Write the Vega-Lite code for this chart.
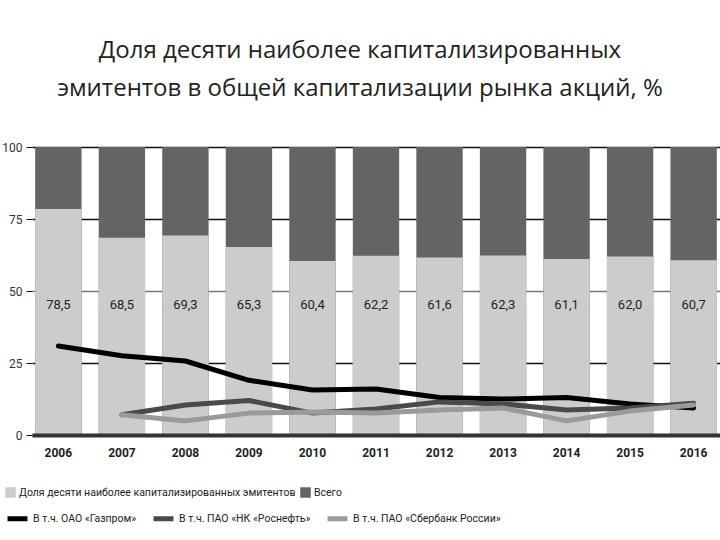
{
  "$schema": "https://vega.github.io/schema/vega-lite/v6.json",
  "autosize": "none",
  "width": 688,
  "height": 288,
  "padding": {"left": 32, "top": 147, "right": 0, "bottom": 105},
  "title": {
    "text": ["Доля десяти наиболее капитализированных", "эмитентов в общей капитализации рынка акций, %"],
    "font": "Open Sans",
    "fontSize": 24,
    "fontWeight": "normal",
    "color": "#222",
    "anchor": "middle",
    "dx": -16,
    "offset": 40,
    "lineHeight": 38
  },
  "data": {
    "values": [
      {"year": "2006", "total": 100, "share": 78.5, "gazprom": 30.9, "rosneft": null, "sber": null},
      {"year": "2007", "total": 100, "share": 68.5, "gazprom": 27.5, "rosneft": 7.0, "sber": 7.0},
      {"year": "2008", "total": 100, "share": 69.3, "gazprom": 25.7, "rosneft": 10.4, "sber": 4.9},
      {"year": "2009", "total": 100, "share": 65.3, "gazprom": 19.0, "rosneft": 12.0, "sber": 7.6},
      {"year": "2010", "total": 100, "share": 60.4, "gazprom": 15.6, "rosneft": 7.6, "sber": 8.0},
      {"year": "2011", "total": 100, "share": 62.2, "gazprom": 16.0, "rosneft": 9.0, "sber": 7.6},
      {"year": "2012", "total": 100, "share": 61.6, "gazprom": 13.0, "rosneft": 11.5, "sber": 8.7},
      {"year": "2013", "total": 100, "share": 62.3, "gazprom": 12.5, "rosneft": 10.8, "sber": 9.4},
      {"year": "2014", "total": 100, "share": 61.1, "gazprom": 13.0, "rosneft": 8.7, "sber": 4.9},
      {"year": "2015", "total": 100, "share": 62.0, "gazprom": 10.8, "rosneft": 9.4, "sber": 8.3},
      {"year": "2016", "total": 100, "share": 60.7, "gazprom": 9.4, "rosneft": 11.0, "sber": 10.4}
    ]
  },
  "encoding": {
    "x": {
      "field": "year",
      "type": "ordinal",
      "title": null,
      "scale": {"paddingInner": 0.27, "paddingOuter": 0.05},
      "axis": {
        "labelAngle": 0,
        "labelFont": "Roboto",
        "labelFontSize": 12,
        "labelFontWeight": "bold",
        "labelColor": "#222",
        "labelPadding": 12,
        "domainColor": "#333",
        "domainWidth": 4,
        "ticks": false,
        "zindex": 1
      }
    }
  },
  "layer": [
    {
      "mark": {"type": "bar"},
      "encoding": {
        "y": {
          "field": "total",
          "type": "quantitative",
          "title": null,
          "scale": {"domain": [0, 100]},
          "axis": {
            "values": [0, 25, 50, 75, 100],
            "domain": false,
            "grid": true,
            "gridColor": {"condition": {"test": "datum.value === 50", "value": "#777"}, "value": "#111"},
            "gridWidth": 1.5,
            "gridOpacity": 1,
            "tickColor": "#111",
            "tickSize": 6,
            "labelFont": "Roboto",
            "labelFontSize": 12,
            "labelColor": "#333",
            "labelPadding": 4,
            "zindex": 0
          }
        },
        "fill": {
          "datum": "Всего",
          "scale": {
            "domain": ["Доля десяти наиболее капитализированных эмитентов", "Всего"],
            "range": ["#cccccc", "#646464"]
          },
          "legend": {
            "title": null,
            "orient": "none",
            "legendX": -27,
            "legendY": 340,
            "direction": "horizontal",
            "symbolType": "square",
            "symbolSize": 110,
            "symbolStrokeWidth": 0,
            "columnPadding": 4,
            "labelOffset": 3
          }
        }
      }
    },
    {
      "mark": {"type": "bar"},
      "encoding": {
        "y": {"field": "share", "type": "quantitative", "title": null},
        "fill": {"datum": "Доля десяти наиболее капитализированных эмитентов"}
      }
    },
    {
      "mark": {
        "type": "text",
        "font": "Roboto",
        "fontSize": 13,
        "color": "#222"
      },
      "encoding": {
        "y": {"datum": 45},
        "text": {"field": "share", "type": "quantitative", "format": ".1f"}
      }
    },
    {
      "transform": [
        {"fold": ["gazprom", "rosneft", "sber"], "as": ["company", "pct"]},
        {"filter": "isValid(datum.pct)"}
      ],
      "mark": {"type": "line", "strokeWidth": 5, "strokeCap": "round", "strokeJoin": "round"},
      "encoding": {
        "y": {"field": "pct", "type": "quantitative", "title": null},
        "stroke": {
          "field": "company",
          "type": "nominal",
          "scale": {"domain": ["gazprom", "rosneft", "sber"], "range": ["#000000", "#4a4a4a", "#9a9a9a"]},
          "legend": {
            "title": null,
            "orient": "none",
            "legendX": -27,
            "legendY": 359,
            "direction": "horizontal",
            "symbolType": "stroke",
            "symbolSize": 400,
            "symbolStrokeWidth": 5,
            "columnPadding": 6,
            "labelOffset": 3,
            "labelExpr": "datum.label == 'gazprom' ? 'В т.ч. ОАО «Газпром»' : datum.label == 'rosneft' ? 'В т.ч. ПАО «НК «Роснефть»' : 'В  т.ч. ПАО «Сбербанк России»'"
          }
        }
      }
    }
  ],
  "config": {
    "view": {"stroke": null},
    "locale": {"number": {"decimal": ",", "thousands": " ", "grouping": [3], "currency": ["", ""]}},
    "legend": {
      "labelFont": "Roboto",
      "labelFontSize": 10.5,
      "labelColor": "#222",
      "labelLimit": 400
    }
  }
}
